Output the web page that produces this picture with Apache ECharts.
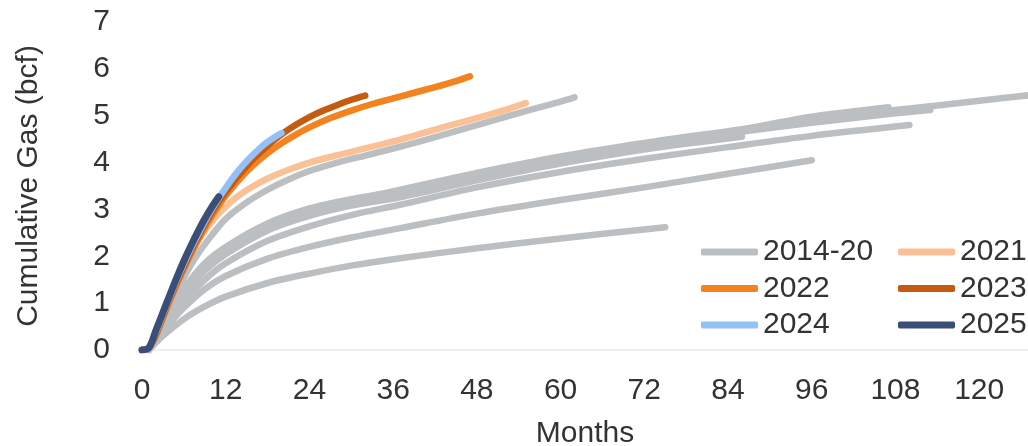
<!DOCTYPE html>
<html>
<head>
<meta charset="utf-8">
<script src="https://cdn.jsdelivr.net/npm/echarts@6/dist/echarts.min.js"></script>
<style>
html, body { margin: 0; padding: 0; background: #fff; }
#chart { width: 1028px; height: 446px; }
</style>
</head>
<body>
<div id="chart"></div>
<script>
// months on production vs cumulative gas (bcf)
var m2025 = [0, 1, 2, 3, 4, 5, 6, 7, 8, 9, 10, 11];
var g2025 = [0, 0.05, 0.42, 0.8, 1.18, 1.55, 1.9, 2.22, 2.52, 2.8, 3.05, 3.27];

var m2024 = [0, 1, 2, 3, 4, 5, 6, 7, 8, 9, 10, 11, 12, 13, 14, 15, 16, 17, 18, 19, 20];
var g2024 = [0, 0.05, 0.38, 0.76, 1.14, 1.5, 1.84, 2.16, 2.46, 2.74, 3.0, 3.24, 3.46, 3.67, 3.86, 4.03, 4.18, 4.32, 4.44, 4.54, 4.63];

var m2023 = [0, 1, 2, 3, 4, 5, 6, 7, 8, 9, 10, 11, 12, 14, 16, 18, 20, 22, 24, 26, 28, 30, 32];
var g2023 = [0, 0.05, 0.34, 0.72, 1.1, 1.45, 1.78, 2.1, 2.4, 2.68, 2.93, 3.16, 3.37, 3.75, 4.08, 4.36, 4.6, 4.8, 4.97, 5.11, 5.23, 5.34, 5.43];

var m2022 = [0, 1, 2, 3, 4, 5, 6, 7, 8, 9, 10, 11, 12, 14, 16, 18, 20, 22, 24, 27, 30, 33, 36, 39, 42, 45, 47];
var g2022 = [0, 0.05, 0.3, 0.68, 1.05, 1.4, 1.73, 2.04, 2.33, 2.6, 2.85, 3.08, 3.29, 3.65, 3.95, 4.2, 4.41, 4.59, 4.75, 4.95, 5.11, 5.25, 5.37, 5.49, 5.61, 5.74, 5.84];

var m2021 = [0, 1, 2, 3, 4, 5, 6, 8, 10, 12, 14, 16, 18, 20, 22, 24, 27, 30, 33, 36, 40, 44, 48, 52, 55];
var g2021 = [0, 0.03, 0.32, 0.72, 1.1, 1.48, 1.82, 2.33, 2.74, 3.06, 3.31, 3.5, 3.66, 3.79, 3.9, 4.0, 4.12, 4.23, 4.34, 4.45, 4.62, 4.79, 4.95, 5.12, 5.27];

// 2014-20 wells (grey)
var mG1 = [1, 2, 4, 6, 8, 10, 12, 15, 18, 21, 24, 28, 32, 36, 40, 44, 48, 52, 56, 60, 62];
var gG1 = [0, 0.25, 0.95, 1.55, 2.05, 2.45, 2.8, 3.15, 3.42, 3.64, 3.82, 4.0, 4.15, 4.3, 4.46, 4.63, 4.8, 4.97, 5.14, 5.3, 5.39];

var mG2 = [1, 3, 6, 9, 12, 18, 24, 30, 37, 48, 60, 72, 84, 96, 108, 120, 128];
var gG2 = [0, 0.5, 1.2, 1.7, 2.05, 2.56, 2.92, 3.18, 3.42, 3.78, 4.13, 4.42, 4.67, 4.92, 5.12, 5.32, 5.45];

var mG3 = [1, 3, 6, 9, 12, 18, 24, 30, 37, 48, 60, 72, 84, 96, 108, 113];
var gG3 = [0, 0.5, 1.25, 1.75, 2.1, 2.6, 2.95, 3.14, 3.32, 3.71, 4.07, 4.38, 4.62, 4.85, 5.05, 5.12];

var mG4 = [1, 3, 6, 9, 12, 18, 24, 30, 37, 48, 60, 72, 84, 96, 110];
var gG4 = [0, 0.45, 1.05, 1.5, 1.85, 2.33, 2.64, 2.88, 3.1, 3.47, 3.8, 4.08, 4.33, 4.57, 4.8];

var mG5 = [1, 3, 6, 9, 12, 18, 24, 30, 37, 48, 60, 72, 84, 96];
var gG5 = [0, 0.4, 0.9, 1.3, 1.58, 1.95, 2.2, 2.4, 2.6, 2.91, 3.2, 3.47, 3.76, 4.05];

var mG6 = [1, 3, 6, 9, 12, 18, 24, 30, 37, 48, 60, 75];
var gG6 = [0, 0.3, 0.66, 0.93, 1.14, 1.43, 1.63, 1.8, 1.96, 2.17, 2.38, 2.62];

var mG7 = [1, 3, 6, 9, 12, 18, 24, 30, 37, 48, 60, 72, 86];
var gG7 = [0, 0.5, 1.2, 1.7, 2.05, 2.55, 2.86, 3.08, 3.26, 3.62, 3.98, 4.28, 4.55];

var mG8 = [1, 3, 6, 9, 12, 18, 24, 30, 37, 48, 60, 72, 84, 90, 96, 107];
var gG8 = [0, 0.55, 1.3, 1.85, 2.2, 2.7, 3.02, 3.22, 3.4, 3.77, 4.1, 4.4, 4.65, 4.82, 4.98, 5.18];

var xTicks = [0, 12, 24, 36, 48, 60, 72, 84, 96, 108, 120];
var yTicks = [0, 1, 2, 3, 4, 5, 6, 7];

var colors = {
  '2014-20': '#BCBFC2',
  '2021': '#F9C195',
  '2022': '#F4821F',
  '2023': '#C55A11',
  '2024': '#94C0FA',
  '2025': '#3B4E78'
};

function zip (ms, gs) {
  return ms.map(function (m, i) { return [m, gs[i]]; });
}

function makeLine (name, ms, gs, width) {
  return {
    name: name,
    type: 'line',
    data: zip(ms, gs),
    showSymbol: false,
    symbol: 'none',
    smooth: 0.3,
    clip: true,
    silent: true,
    lineStyle: { color: colors[name], width: width, cap: 'round', join: 'round' },
    itemStyle: { color: colors[name] }
  };
}

var greyLines = [[mG6, gG6], [mG5, gG5], [mG4, gG4], [mG7, gG7], [mG3, gG3], [mG8, gG8], [mG2, gG2], [mG1, gG1]];

var series = greyLines.map(function (p) { return makeLine('2014-20', p[0], p[1], 6.5); });
series.push(makeLine('2021', m2021, g2021, 6.5));
series.push(makeLine('2022', m2022, g2022, 6.5));
series.push(makeLine('2023', m2023, g2023, 6.5));
series.push(makeLine('2024', m2024, g2024, 6.5));
series.push(makeLine('2025', m2025, g2025, 7));

var textColor = '#333333';
var fontFamily = '"Liberation Sans", Arial, sans-serif';

var legendBase = {
  orient: 'vertical',
  top: 232,
  itemWidth: 57,
  itemHeight: 7,
  itemGap: 6.5,
  icon: 'roundRect',
  selectedMode: false,
  textStyle: { color: textColor, fontSize: 30, fontFamily: fontFamily, lineHeight: 30 }
};

var chart = echarts.init(document.getElementById('chart'), null, { renderer: 'canvas' });
chart.setOption({
  animation: false,
  backgroundColor: '#ffffff',
  grid: { left: 142, right: 0, top: 22, bottom: 96, containLabel: false, outerBoundsMode: 'none' },
  legend: [
    Object.assign({}, legendBase, { left: 696, data: ['2014-20', '2022', '2024'] }),
    Object.assign({}, legendBase, { left: 893, data: ['2021', '2023', '2025'] })
  ],
  xAxis: {
    type: 'value',
    min: xTicks[0],
    max: 127,
    interval: 12,
    name: 'Months',
    nameLocation: 'middle',
    nameGap: 69,
    nameTextStyle: { color: textColor, fontSize: 30, fontFamily: fontFamily },
    axisLine: { show: true, lineStyle: { color: '#EFEFEF', width: 2 } },
    axisTick: { show: false },
    splitLine: { show: false },
    axisLabel: {
      color: textColor, fontSize: 30, fontFamily: fontFamily, margin: 26,
      showMaxLabel: false,
      formatter: function (v) { return xTicks.indexOf(v) >= 0 ? String(v) : ''; }
    }
  },
  yAxis: {
    type: 'value',
    min: yTicks[0],
    max: yTicks[yTicks.length - 1],
    interval: 1,
    name: 'Cumulative Gas (bcf)',
    nameLocation: 'middle',
    nameGap: 98,
    nameTextStyle: { color: textColor, fontSize: 30, fontFamily: fontFamily },
    axisLine: { show: false },
    axisTick: { show: false },
    splitLine: { show: false },
    axisLabel: { color: textColor, fontSize: 30, fontFamily: fontFamily, margin: 32 }
  },
  series: series
});
</script>
</body>
</html>
